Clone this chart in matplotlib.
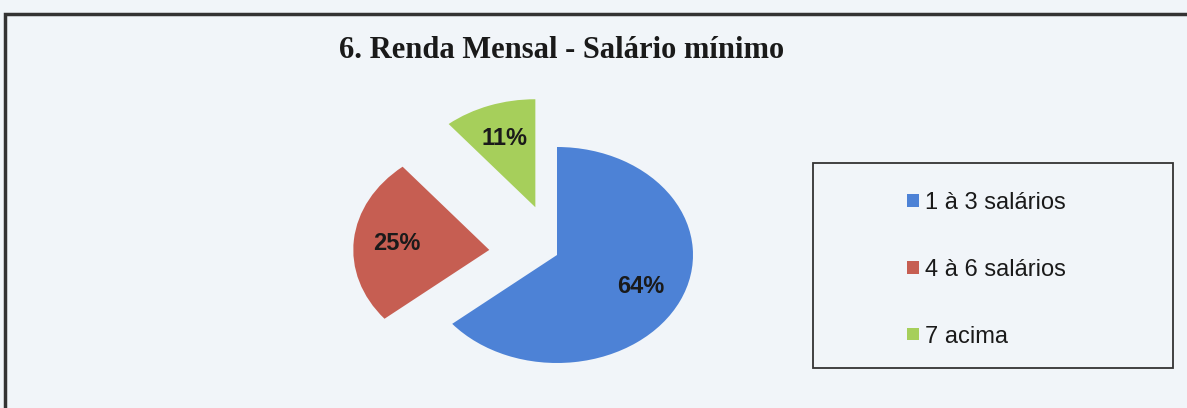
#!/usr/bin/env python3

import matplotlib.pyplot as plt
from matplotlib.patches import Rectangle, Patch

title = '6. Renda Mensal - Salário mínimo'
categories = ['1 à 3 salários', '4 à 6 salários', '7 acima']
values = [64, 25, 11]
explode = [0, 0.5, 0.47]
colors = ['#4d82d6', '#c65e52', '#a6cf5b']
bg = '#f1f5f9'

W, H = 1187, 408
fig = plt.figure(figsize=(W / 100, H / 100), dpi=100, facecolor=bg)

# outer frame of the scanned chart (runs off right and bottom edges)
fig.patches.append(Rectangle((5 / W, -0.05), 1.0, (H - 14) / H + 0.05,
                             transform=fig.transFigure, fill=False,
                             edgecolor='#333333', linewidth=2.5))

# pie is stretched horizontally in the scan: rx=136px, ry=108px
cx, cy = 557, H - 255
lim = 1.6
aw, ah = 2 * lim * 136, 2 * lim * 108
ax = fig.add_axes([(cx - aw / 2) / W, (cy - ah / 2) / H, aw / W, ah / H])
ax.set_facecolor('none')
wedges, texts, autotexts = ax.pie(values, explode=explode, colors=colors,
                                  startangle=90, counterclock=False,
                                  autopct='%d%%', pctdistance=0.68,
                                  wedgeprops=dict(linewidth=0))
for t in autotexts:
    t.set_fontfamily('Liberation Sans')
    t.set_fontweight('bold')
    t.set_fontsize(17)
    t.set_color('#1a1a1a')
ax.set_aspect('auto')
ax.set_xlim(-lim, lim)
ax.set_ylim(-lim, lim)
ax.axis('off')

fig.text(562 / W, (H - 50) / H, title, ha='center', va='center',
         fontfamily='Liberation Serif', fontweight='bold', fontsize=22,
         color='#1a1a1a')

# legend box
fig.patches.append(Rectangle((813 / W, (H - 368) / H), 360 / W, 205 / H,
                             transform=fig.transFigure, fill=False,
                             edgecolor='#333333', linewidth=1.3))
handles = [Patch(facecolor=c, edgecolor='none') for c in colors]
fig.legend(handles, categories, loc='upper left',
           bbox_to_anchor=(895 / W, (H - 180) / H), frameon=False,
           prop={'family': 'Liberation Sans', 'size': 17},
           handlelength=0.5, handleheight=0.45, handletextpad=0.25,
           labelspacing=1.9, borderpad=0, labelcolor='#1a1a1a')

fig.savefig('out.png', dpi=100, facecolor=bg)
